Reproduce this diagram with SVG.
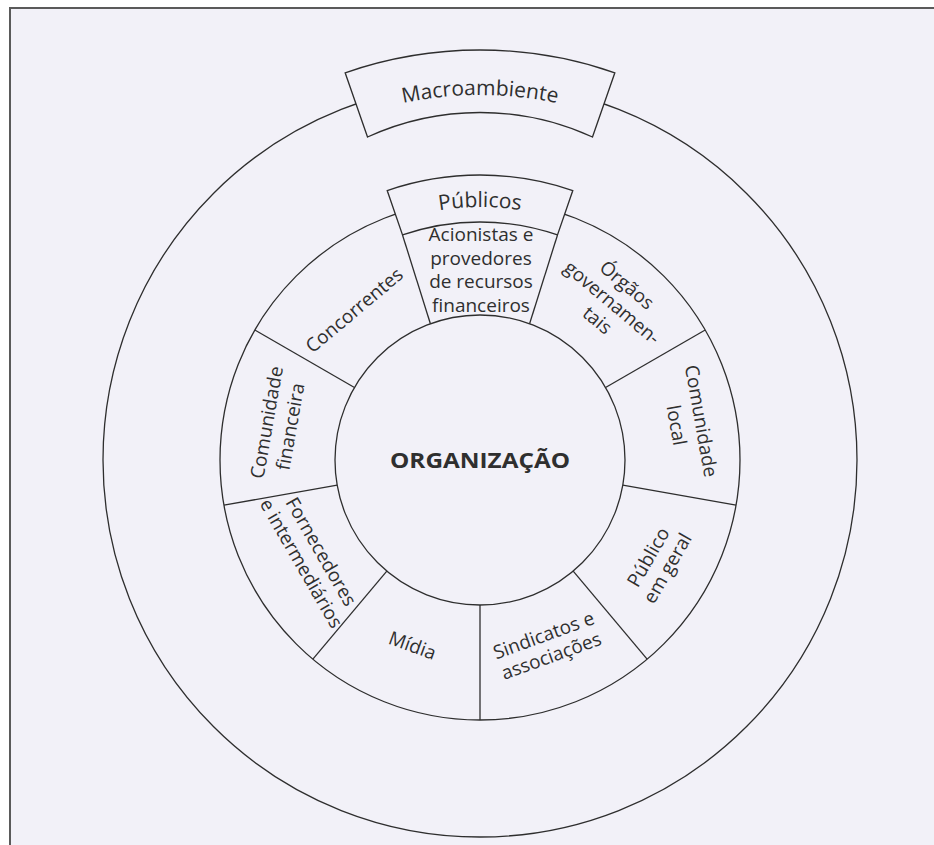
<svg xmlns="http://www.w3.org/2000/svg" width="934" height="845" viewBox="0 0 934 845">
<style>
.ln{fill:none;stroke:#2e2e2e;stroke-width:1.3}
.box{fill:#f2f1f8;stroke:#2e2e2e;stroke-width:1.3}
.t{font-family:"Open Sans","Noto Sans",sans-serif;fill:#2f2f2f;font-size:19px}
.big{font-size:21px}
.org{font-family:"Open Sans","Noto Sans",sans-serif;fill:#2f2f2f;font-size:22px;font-weight:bold}
</style>
<defs>
<path id="arcMacro" d="M 297.5 143.9 A 365 365 0 0 1 662.5 143.9"/>
<path id="arcPub" d="M 317.4 266.2 A 253 253 0 0 1 642.6 266.2"/>
</defs>
<rect x="0" y="0" width="934" height="845" fill="#ffffff"/>
<rect x="10" y="8" width="940" height="850" fill="#f2f1f8" stroke="#5a5a5a" stroke-width="2"/>
<g id="rings">
<circle class="ln" cx="480" cy="460" r="377"/>
<circle class="ln" cx="480" cy="460" r="260"/>
<circle class="ln" cx="480" cy="460" r="145"/>
</g>
<g id="connectors">
<line class="ln" x1="529.59" y1="323.74" x2="557.49" y2="234.97"/>
<line class="ln" x1="430.41" y1="323.74" x2="402.51" y2="234.97"/>
<line class="ln" x1="605.57" y1="387.5" x2="705.17" y2="330"/>
<line class="ln" x1="354.43" y1="387.5" x2="254.83" y2="330"/>
<line class="ln" x1="622.80" y1="485.18" x2="736.05" y2="505.15"/>
<line class="ln" x1="337.20" y1="485.18" x2="223.95" y2="505.15"/>
<line class="ln" x1="573.20" y1="571.08" x2="647.13" y2="659.17"/>
<line class="ln" x1="386.80" y1="571.08" x2="312.87" y2="659.17"/>
<line class="ln" x1="480" y1="605" x2="480" y2="720"/>
</g>
<g id="macroambiente">
<path class="box" d="M 345.16 72.8 A 410 410 0 0 1 614.84 72.8 L 592.47 137.02 A 270 270 0 0 0 367.53 137.02 Z"/>
<text class="t big"><textPath href="#arcMacro" startOffset="50%" text-anchor="middle">Macroambiente</textPath></text>
</g>
<g id="publicos">
<path class="box" d="M 387.21 190.53 A 285 285 0 0 1 572.79 190.53 L 557.49 234.97 A 238 238 0 0 0 402.51 234.97 Z"/>
<text class="t big"><textPath href="#arcPub" startOffset="50%" text-anchor="middle">Públicos</textPath></text>
</g>
<g id="organizacao">
<text class="org" x="480" y="468" text-anchor="middle" textLength="180" lengthAdjust="spacingAndGlyphs">ORGANIZAÇÃO</text>
</g>
<g id="acionistas">
<text class="t" text-anchor="middle"><tspan x="481" y="241">Acionistas e</tspan><tspan x="481" y="264.5">provedores</tspan><tspan x="481" y="288">de recursos</tspan><tspan x="481" y="311.5">financeiros</tspan></text>
</g>
<g id="orgaos" transform="translate(480 460) rotate(40)">
<text class="t" text-anchor="middle"><tspan x="0" y="-222">Órgãos</tspan><tspan x="0" y="-199">governamen-</tspan><tspan x="0" y="-176">tais</tspan></text>
</g>
<g id="comunidade-local" transform="translate(480 460) rotate(80)">
<text class="t" text-anchor="middle"><tspan x="0" y="-218">Comunidade</tspan><tspan x="0" y="-193">local</tspan></text>
</g>
<g id="publico-geral" transform="translate(480 460) rotate(-60)">
<text class="t" text-anchor="middle"><tspan x="0" y="201">Público</tspan><tspan x="0" y="223">em geral</tspan></text>
</g>
<g id="sindicatos" transform="translate(480 460) rotate(-20)">
<text class="t" text-anchor="middle"><tspan x="0" y="193">Sindicatos e</tspan><tspan x="0" y="215">associações</tspan></text>
</g>
<g id="midia" transform="translate(480 460) rotate(20)">
<text class="t" text-anchor="middle" x="0" y="204">Mídia</text>
</g>
<g id="fornecedores" transform="translate(480 460) rotate(60)">
<text class="t" text-anchor="middle"><tspan x="0" y="190">Fornecedores</tspan><tspan x="0" y="213">e intermediários</tspan></text>
</g>
<g id="comunidade-financeira" transform="translate(480 460) rotate(-80)">
<text class="t" text-anchor="middle"><tspan x="0" y="-210">Comunidade</tspan><tspan x="0" y="-186">financeira</tspan></text>
</g>
<g id="concorrentes" transform="translate(480 460) rotate(-40)">
<text class="t" text-anchor="middle" x="0" y="-189">Concorrentes</text>
</g>
</svg>
